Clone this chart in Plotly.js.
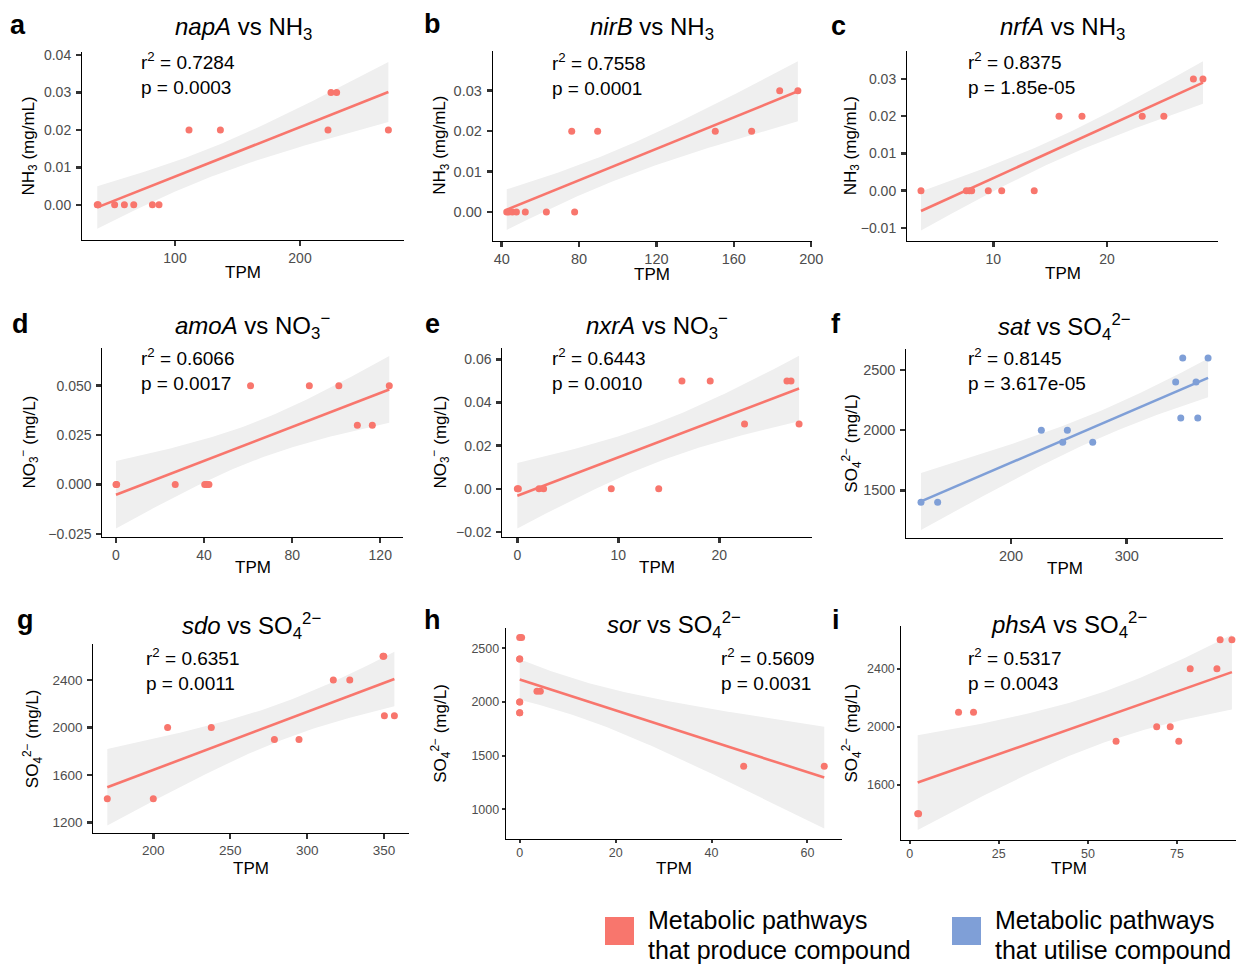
<!DOCTYPE html>
<html>
<head>
<meta charset="utf-8">
<script src="https://cdn.plot.ly/plotly-3.0.1.min.js"></script>
<style>html,body{margin:0;padding:0;background:#fff;}</style>
</head>
<body>
<div id="chart" style="width:1236px;height:964px;"></div>
<script>
// ---------------- DATA ----------------
const napA_tpm = [37.8, 38.5, 51.7, 59.5, 67.0, 81.9, 87.2, 111.2, 136.3, 222.4, 224.8, 229.3, 270.7];
const napA_nh3 = [0, 0, 0, 0, 0, 0, 0, 0.02, 0.02, 0.02, 0.03, 0.03, 0.02];

const nirB_tpm = [42.6, 43.6, 45.5, 47.6, 52.2, 63.1, 77.7, 76.2, 89.6, 150.4, 169.2, 183.7, 193.1];
const nirB_nh3 = [0, 0, 0, 0, 0, 0, 0, 0.02, 0.02, 0.02, 0.02, 0.03, 0.03];

const nrfA_tpm = [3.64, 7.63, 7.9, 8.1, 9.56, 10.74, 13.6, 15.78, 17.8, 23.1, 25.0, 27.6, 28.44];
const nrfA_nh3 = [0, 0, 0, 0, 0, 0, 0, 0.02, 0.02, 0.02, 0.02, 0.03, 0.03];

const amoA_tpm = [0, 0.3, 26.9, 40.3, 41.2, 42.2, 61.1, 87.8, 101.2, 109.6, 116.4, 124.1];
const amoA_no3 = [0, 0, 0, 0, 0, 0, 0.05, 0.05, 0.05, 0.03, 0.03, 0.05];

const nxrA_tpm = [0, 0.1, 2.15, 2.6, 9.3, 14.0, 16.3, 19.1, 22.5, 26.7, 27.1, 27.9];
const nxrA_no3 = [0, 0, 0, 0, 0, 0, 0.05, 0.05, 0.03, 0.05, 0.05, 0.03];

const sat_tpm = [122.2, 136.6, 226.2, 244.7, 248.7, 270.6, 342.3, 346.7, 348.4, 359.9, 361.4, 370.3];
const sat_so4 = [1400, 1400, 2000, 1900, 2000, 1900, 2400, 2100, 2600, 2400, 2100, 2600];

const sdo_tpm = [170.1, 200.0, 209.3, 237.7, 278.7, 294.7, 317.0, 327.7, 349.3, 349.8, 350.2, 356.7];
const sdo_so4 = [1400, 1400, 2000, 2000, 1900, 1900, 2400, 2400, 2600, 2600, 2100, 2100];

const sor_tpm = [0, 0, 0, 0, 0, 0, 0, 0.4, 3.6, 4.3, 46.7, 63.5];
const sor_so4 = [1900, 1900, 2000, 2000, 2400, 2400, 2600, 2600, 2100, 2100, 1400, 1400];

const phsA_tpm = [2.24, 2.5, 13.7, 17.9, 57.9, 69.3, 73.1, 75.5, 78.7, 86.2, 87.1, 90.4];
const phsA_so4 = [1400, 1400, 2100, 2100, 1900, 2000, 2000, 1900, 2400, 2400, 2600, 2600];

const genes     = ['napA', 'nirB', 'nrfA', 'amoA', 'nxrA', 'sat', 'sdo', 'sor', 'phsA'];
const compounds = ['NH<sub>3</sub>', 'NH<sub>3</sub>', 'NH<sub>3</sub>',
                   'NO<sub>3</sub><sup>−</sup>', 'NO<sub>3</sub><sup>−</sup>',
                   'SO<sub>4</sub><sup>2−</sup>', 'SO<sub>4</sub><sup>2−</sup>',
                   'SO<sub>4</sub><sup>2−</sup>', 'SO<sub>4</sub><sup>2−</sup>'];
const yTitles   = ['NH<sub>3</sub> (mg/mL)', 'NH<sub>3</sub> (mg/mL)', 'NH<sub>3</sub> (mg/mL)',
                   'NO<sub>3</sub><sup>−</sup> (mg/L)', 'NO<sub>3</sub><sup>−</sup> (mg/L)',
                   'SO<sub>4</sub><sup>2−</sup> (mg/L)', 'SO<sub>4</sub><sup>2−</sup> (mg/L)',
                   'SO<sub>4</sub><sup>2−</sup> (mg/L)', 'SO<sub>4</sub><sup>2−</sup> (mg/L)'];
const xTitle    = 'TPM';
const r2Values  = ['0.7284', '0.7558', '0.8375', '0.6066', '0.6443', '0.8145', '0.6351', '0.5609', '0.5317'];
const pValues   = ['0.0003', '0.0001', '1.85e-05', '0.0017', '0.0010', '3.617e-05', '0.0011', '0.0031', '0.0043'];
const pathway   = ['produce', 'produce', 'produce', 'produce', 'produce', 'utilise', 'produce', 'produce', 'produce'];
const panelLetters = ['a', 'b', 'c', 'd', 'e', 'f', 'g', 'h', 'i'];
const legendLabels = [['Metabolic pathways', 'that produce compound'], ['Metabolic pathways', 'that utilise compound']];

const xData = [napA_tpm, nirB_tpm, nrfA_tpm, amoA_tpm, nxrA_tpm, sat_tpm, sdo_tpm, sor_tpm, phsA_tpm];
const yData = [napA_nh3, nirB_nh3, nrfA_nh3, amoA_no3, nxrA_no3, sat_so4, sdo_so4, sor_so4, phsA_so4];

// ---------------- STYLE / LAYOUT ----------------
const W = 1236, H = 964;
const COLORS = {produce: '#F8766D', utilise: '#7F9FD7'};
const FONT = 'Liberation Sans, Arial, Helvetica, sans-serif';
// pixel boxes [left, top, right, bottom], axis ranges, ticks, text positions
const panelLayout = [
  {box: [82, 52, 404, 240],         xr: [25.6, 283.2],  yr: [-0.0094, 0.0408], xd: 100, yd: 0.01,  yf: '.2f', stat: [139, 59],   lab: [18, 25],   ty: 28,    yt: 29.5,  xt: 272.5, tf: 14,   tl: 5},
  {box: [492.7, 50.7, 812, 240.7],  xr: [35.35, 200.4], yr: [-0.0071, 0.0399], xd: 40,  yd: 0.01,  yf: '.2f', stat: [549.7, 60], lab: [432, 24],  ty: 28,    yt: 441,   xt: 274,   tf: 14.5, tl: 5},
  {box: [907, 50.7, 1218.3, 241],   xr: [2.41, 29.79],  yr: [-0.0135, 0.0376], xd: 10,  yd: 0.01,  yf: '.2f', stat: [965.7, 59], lab: [838, 26],  ty: 28.5,  yt: 851.5, xt: 273,   tf: 14,   tl: 5},
  {box: [102.3, 347.7, 402.7, 537.3], xr: [-6.22, 130.2], yr: [-0.0267, 0.0692], xd: 40, yd: 0.025, yf: '.3f', stat: [139, 355], lab: [20, 324], ty: 326,   yt: 29,    xt: 567,   tf: 14,   tl: 5},
  {box: [502.3, 347.7, 812, 537.3], xr: [-1.49, 29.18], yr: [-0.0225, 0.0654], xd: 10, yd: 0.02, yf: '.2f', stat: [549.7, 355], lab: [432, 324], ty: 326,   yt: 440,   xt: 567,   tf: 14,   tl: 5},
  {box: [906.3, 349.3, 1223, 538], xr: [109.5, 383.2], yr: [1103.5, 2672], xd: 100, yd: 500, yf: 'd', stat: [965.7, 355], lab: [836, 324], ty: 326.5, yt: 852,   xt: 568.5, tf: 14.5, tl: 5},
  {box: [93.3, 644.3, 408.7, 833], xr: [161, 366], yr: [1113, 2700], xd: 50, yd: 400, yf: 'd', stat: [144, 655], lab: [25, 620], ty: 625.5, yt: 32.5,  xt: 868,   tf: 13.5, tl: 5},
  {box: [505.7, 628.3, 842, 839.3], xr: [-2.92, 67.2], yr: [720, 2686], xd: 20, yd: 500, yf: 'd', stat: [719.3, 655], lab: [432, 620], ty: 625,   yt: 441,   xt: 868,   tf: 12.5, tl: 3},
  {box: [901.3, 625.7, 1236, 840], xr: [-2.36, 91.55], yr: [1218.6, 2696.6], xd: 25, yd: 400, yf: 'd', stat: [965.7, 655], lab: [836, 620], ty: 624.5, yt: 851.7, xt: 868,   tf: 12.5, tl: 3}
];

// two-sided 95% t quantiles by degrees of freedom
const T975 = {6: 2.447, 7: 2.365, 8: 2.306, 9: 2.262, 10: 2.228, 11: 2.201, 12: 2.179, 13: 2.160, 14: 2.145};

function mean(a) { return a.reduce((s, v) => s + v, 0) / a.length; }
// ordinary least squares fit with 95% confidence band (as geom_smooth(method = "lm"))
function lmFit(x, y) {
  const n = x.length, mx = mean(x), my = mean(y);
  let sxx = 0, sxy = 0;
  for (let i = 0; i < n; i++) { sxx += (x[i] - mx) ** 2; sxy += (x[i] - mx) * (y[i] - my); }
  const b = sxy / sxx, a = my - b * mx;
  let sse = 0;
  for (let i = 0; i < n; i++) sse += (y[i] - a - b * x[i]) ** 2;
  const s = Math.sqrt(sse / (n - 2)), t = T975[n - 2];
  const x0 = Math.min(...x), x1 = Math.max(...x), N = 80;
  const xs = [], ys = [], lo = [], hi = [];
  for (let k = 0; k < N; k++) {
    const xv = x0 + (x1 - x0) * k / (N - 1);
    const yv = a + b * xv;
    const se = s * Math.sqrt(1 / n + (xv - mx) ** 2 / sxx);
    xs.push(xv); ys.push(yv); lo.push(yv - t * se); hi.push(yv + t * se);
  }
  return {xs, ys, lo, hi};
}

const px = v => v / W;
const py = v => 1 - v / H;

const traces = [];
const layout = {
  width: W, height: H,
  margin: {l: 0, r: 0, t: 0, b: 0},
  paper_bgcolor: '#fff', plot_bgcolor: 'rgba(0,0,0,0)',
  font: {family: FONT, color: '#000'},
  showlegend: false,
  annotations: [],
  shapes: []
};

genes.forEach((g, i) => {
  const L = panelLayout[i];
  const xa = i === 0 ? 'x' : 'x' + (i + 1);
  const ya = i === 0 ? 'y' : 'y' + (i + 1);
  const xKey = i === 0 ? 'xaxis' : 'xaxis' + (i + 1);
  const yKey = i === 0 ? 'yaxis' : 'yaxis' + (i + 1);
  const col = COLORS[pathway[i]];
  const fit = lmFit(xData[i], yData[i]);

  traces.push({
    type: 'scatter', mode: 'lines', xaxis: xa, yaxis: ya,
    x: fit.xs.concat(fit.xs.slice().reverse()),
    y: fit.hi.concat(fit.lo.slice().reverse()),
    fill: 'toself', fillcolor: '#EFEFEF', line: {width: 0}, hoverinfo: 'skip'
  });
  traces.push({
    type: 'scatter', mode: 'lines', xaxis: xa, yaxis: ya,
    x: fit.xs, y: fit.ys, line: {color: col, width: 2.6}, hoverinfo: 'skip'
  });
  traces.push({
    type: 'scatter', mode: 'markers', xaxis: xa, yaxis: ya,
    x: xData[i], y: yData[i], marker: {color: col, size: 7, line: {width: 0}},
    name: g
  });

  const small = L.tl < 5;
  const common = {
    showline: true, linecolor: '#000', linewidth: 1,
    ticks: 'outside', ticklen: L.tl, tickwidth: small ? 2 : 2.5, tickcolor: '#333',
    showgrid: false, zeroline: false, fixedrange: true,
    tickfont: {family: FONT, size: L.tf, color: '#4D4D4D'}
  };
  layout[xKey] = Object.assign({}, common, {
    domain: [px(L.box[0]), px(L.box[2])], anchor: ya,
    range: L.xr, tick0: 0, dtick: L.xd,
    ticklabelstandoff: small ? -1 : 0
  });
  layout[yKey] = Object.assign({}, common, {
    domain: [py(L.box[3]), py(L.box[1])], anchor: xa,
    range: L.yr, tick0: 0, dtick: L.yd, tickformat: L.yf,
    ticklabelstandoff: small ? 0 : 2
  });

  // axis titles
  layout.annotations.push({
    xref: 'paper', yref: 'paper', x: px((L.box[0] + L.box[2]) / 2), y: py(L.xt),
    xanchor: 'center', yanchor: 'middle', showarrow: false,
    text: xTitle, font: {family: FONT, size: 17, color: '#000'}
  });
  layout.annotations.push({
    xref: 'paper', yref: 'paper', x: px(L.yt), y: py((L.box[1] + L.box[3]) / 2),
    xanchor: 'center', yanchor: 'middle', showarrow: false, textangle: -90,
    text: yTitles[i], font: {family: FONT, size: 17, color: '#000'}
  });
  // panel title
  layout.annotations.push({
    xref: 'paper', yref: 'paper', x: px((L.box[0] + L.box[2]) / 2), y: py(L.ty),
    xanchor: 'center', yanchor: 'middle', showarrow: false,
    text: '<i>' + g + '</i> vs ' + compounds[i], font: {family: FONT, size: 24, color: '#000'}
  });
  // r2 / p
  layout.annotations.push({
    xref: 'paper', yref: 'paper', x: px(L.stat[0]), y: py(L.stat[1] - 12),
    xanchor: 'left', yanchor: 'top', align: 'left', showarrow: false,
    text: 'r<sup>2</sup> = ' + r2Values[i] + '<br>p = ' + pValues[i],
    font: {family: FONT, size: 19, color: '#000'}
  });
  // panel letter
  layout.annotations.push({
    xref: 'paper', yref: 'paper', x: px(L.lab[0]), y: py(L.lab[1]),
    xanchor: 'center', yanchor: 'middle', showarrow: false,
    text: '<b>' + panelLetters[i] + '</b>', font: {family: FONT, size: 27, color: '#000'}
  });
});

// bottom legend
const legendItems = [
  {key: 'produce', sq: [605, 917, 634, 945], tx: 646},
  {key: 'utilise', sq: [952, 917, 981, 945], tx: 993}
];
const legendLineY = [920, 950];
legendItems.forEach((it, k) => {
  layout.shapes.push({
    type: 'rect', xref: 'paper', yref: 'paper',
    x0: px(it.sq[0]), x1: px(it.sq[2]), y0: py(it.sq[3]), y1: py(it.sq[1]),
    fillcolor: COLORS[it.key], line: {width: 0}
  });
  legendLabels[k].forEach((line, j) => {
    layout.annotations.push({
      xref: 'paper', yref: 'paper', x: px(it.tx), y: py(legendLineY[j]),
      xanchor: 'left', yanchor: 'middle', align: 'left', showarrow: false,
      text: line, font: {family: FONT, size: 25, color: '#000'}
    });
  });
});

Plotly.newPlot('chart', traces, layout, {staticPlot: true, displayModeBar: false});
</script>
</body>
</html>
